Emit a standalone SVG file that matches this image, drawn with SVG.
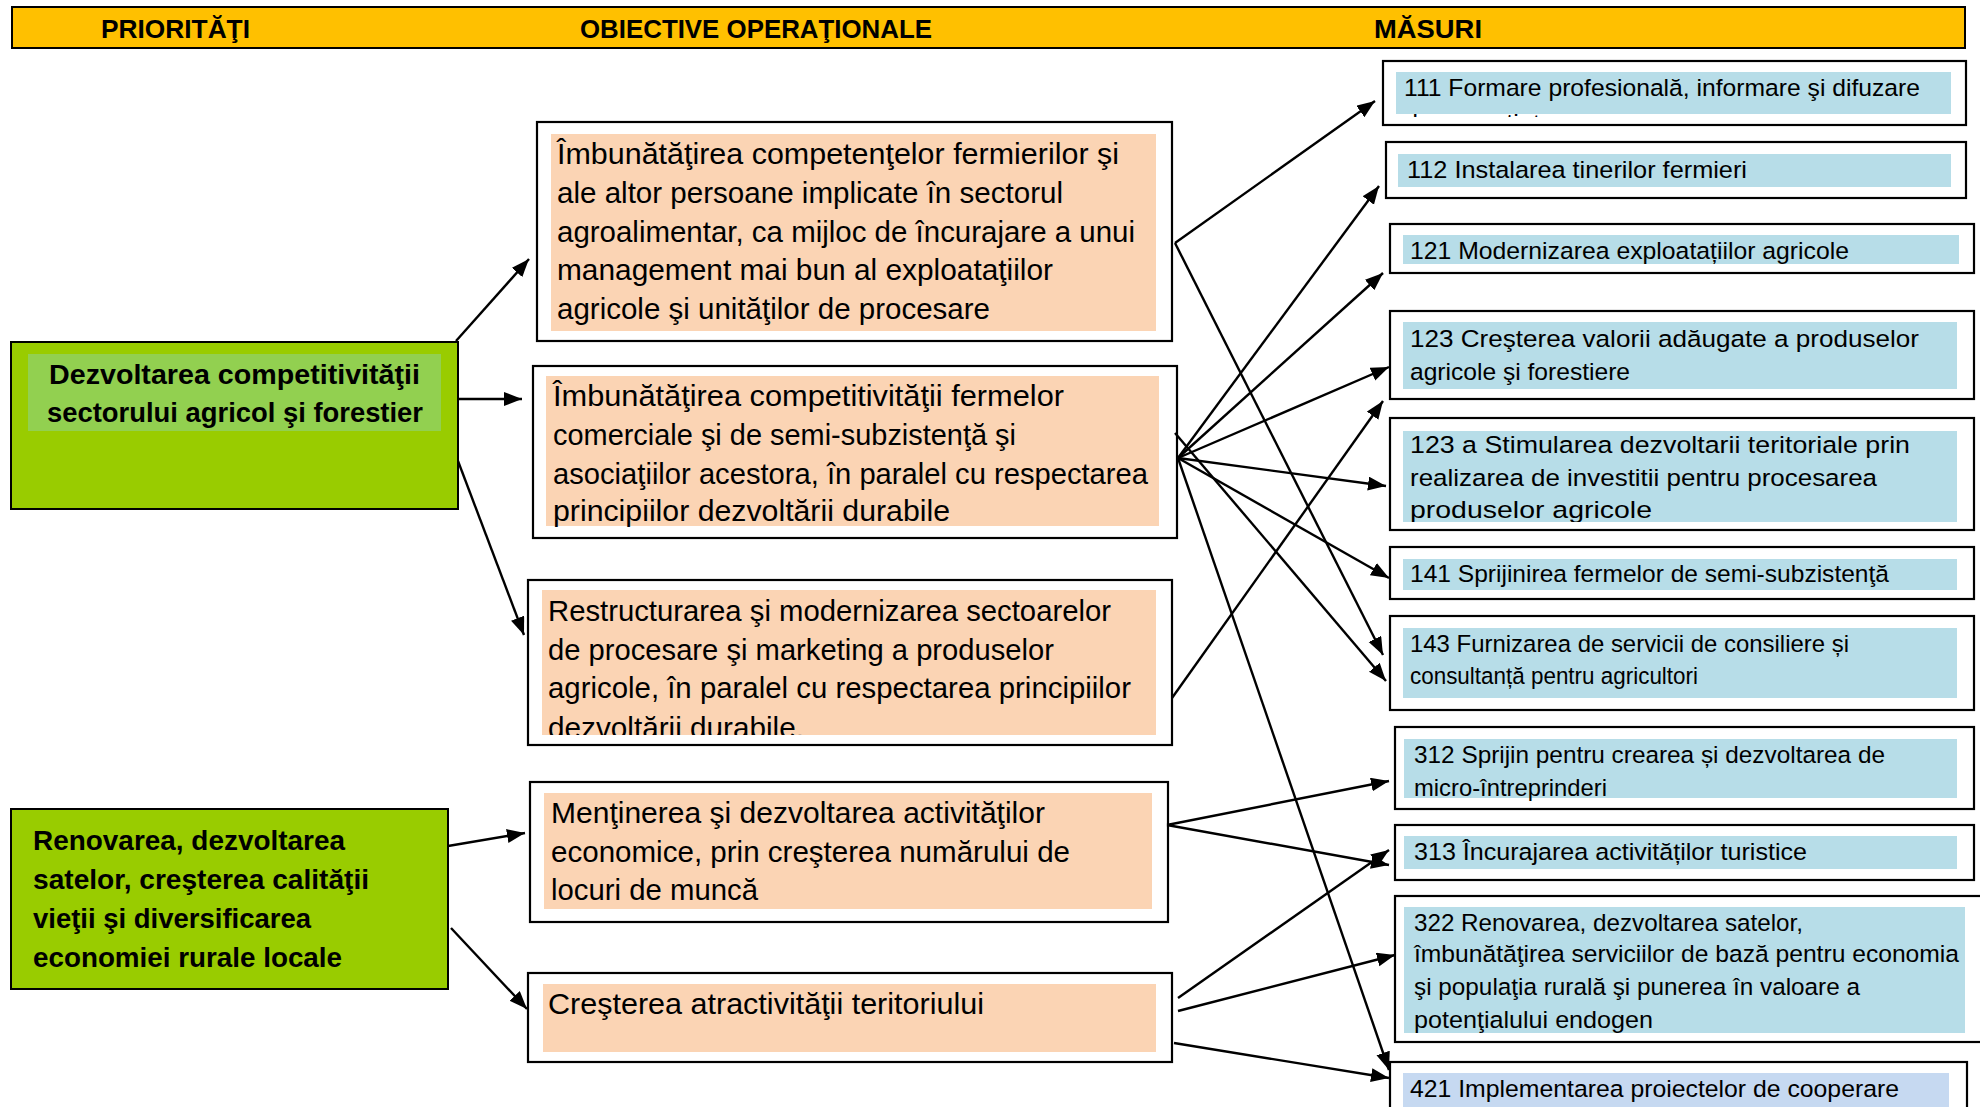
<svg xmlns="http://www.w3.org/2000/svg" width="1980" height="1107" viewBox="0 0 1980 1107">
<style>
.bg{fill:#ffffff}
.hdr{fill:#FFC000;stroke:#000;stroke-width:2}
.htxt{font-family:"Liberation Sans",Arial,sans-serif;font-weight:bold;font-size:26px;fill:#000}
.green{fill:#99CC00;stroke:#000;stroke-width:2}
.band{fill:#92D050}
.gtxt{font-family:"Liberation Sans",Arial,sans-serif;font-weight:bold;font-size:28.5px;fill:#000}
.box{fill:#fff;stroke:#000;stroke-width:2.2}
.peach{fill:#FBD4B4}
.blue{fill:#B7DDE8}
.lav{fill:#C6D9F1}
.otxt{font-family:"Liberation Sans",Arial,sans-serif;font-size:29px;fill:#000}
.mtxt{font-family:"Liberation Sans",Arial,sans-serif;font-size:24.5px;fill:#000}
.conn line{stroke:#000;stroke-width:2.4;fill:none;marker-end:url(#arr)}
</style>
<defs>
<marker id="arr" markerUnits="userSpaceOnUse" markerWidth="19" markerHeight="15" refX="18" refY="7" orient="auto">
<path d="M0,0 L18,7 L0,14 z" fill="#000"/>
</marker>
<clipPath id="cO2"><rect x="540" y="370" width="630" height="157"/></clipPath>
<clipPath id="cO3"><rect x="535" y="585" width="630" height="150"/></clipPath>
<clipPath id="cM1"><rect x="1390" y="66" width="570" height="51"/></clipPath>
<clipPath id="cM3"><rect x="1396" y="229" width="570" height="35"/></clipPath>
<clipPath id="cM5"><rect x="1396" y="425" width="570" height="97"/></clipPath>
<clipPath id="cM10"><rect x="1400" y="901" width="575" height="132"/></clipPath>
</defs>
<rect class="bg" x="0" y="0" width="1980" height="1107"/>

<g id="header">
<rect class="hdr" x="12" y="7" width="1953" height="41"/>
<text class="htxt" x="101" y="38" textLength="149" lengthAdjust="spacingAndGlyphs">PRIORITĂŢI</text>
<text class="htxt" x="580" y="38" textLength="352" lengthAdjust="spacingAndGlyphs">OBIECTIVE OPERAŢIONALE</text>
<text class="htxt" x="1374" y="38" textLength="108" lengthAdjust="spacingAndGlyphs">MĂSURI</text>
</g>

<g id="p1">
<rect class="green" x="11" y="342" width="447" height="167"/>
<rect class="band" x="28" y="354" width="413" height="77"/>
<text class="gtxt" x="49" y="384" textLength="371" lengthAdjust="spacingAndGlyphs">Dezvoltarea competitivităţii</text>
<text class="gtxt" x="47" y="422" textLength="376" lengthAdjust="spacingAndGlyphs">sectorului agricol şi forestier</text>
</g>

<g id="p2">
<rect class="green" x="11" y="809" width="437" height="180"/>
<text class="gtxt" x="33" y="850" textLength="312" lengthAdjust="spacingAndGlyphs">Renovarea, dezvoltarea</text>
<text class="gtxt" x="33" y="889" textLength="336" lengthAdjust="spacingAndGlyphs">satelor, creşterea calităţii</text>
<text class="gtxt" x="33" y="928" textLength="278" lengthAdjust="spacingAndGlyphs">vieţii şi diversificarea</text>
<text class="gtxt" x="33" y="967" textLength="309" lengthAdjust="spacingAndGlyphs">economiei rurale locale</text>
</g>

<g id="o1">
<rect class="box" x="537" y="122" width="635" height="219"/>
<rect class="peach" x="551" y="134" width="605" height="197"/>
<text class="otxt" x="557" y="164" textLength="562" lengthAdjust="spacingAndGlyphs">Îmbunătăţirea competenţelor fermierilor şi</text>
<text class="otxt" x="557" y="203" textLength="506" lengthAdjust="spacingAndGlyphs">ale altor persoane implicate în sectorul</text>
<text class="otxt" x="557" y="242" textLength="578" lengthAdjust="spacingAndGlyphs">agroalimentar, ca mijloc de încurajare a unui</text>
<text class="otxt" x="557" y="280" textLength="496" lengthAdjust="spacingAndGlyphs">management mai bun al exploataţiilor</text>
<text class="otxt" x="557" y="319" textLength="433" lengthAdjust="spacingAndGlyphs">agricole şi unităţilor de procesare</text>
</g>

<g id="o2">
<rect class="box" x="533" y="366" width="644" height="172"/>
<rect class="peach" x="546" y="376" width="613" height="150"/>
<g clip-path="url(#cO2)">
<text class="otxt" x="553" y="406" textLength="511" lengthAdjust="spacingAndGlyphs">Îmbunătăţirea competitivităţii fermelor</text>
<text class="otxt" x="553" y="445" textLength="463" lengthAdjust="spacingAndGlyphs">comerciale şi de semi-subzistenţă şi</text>
<text class="otxt" x="553" y="484" textLength="595" lengthAdjust="spacingAndGlyphs">asociaţiilor acestora, în paralel cu respectarea</text>
<text class="otxt" x="553" y="521" textLength="397" lengthAdjust="spacingAndGlyphs">principiilor dezvoltării durabile</text>
</g>
</g>

<g id="o3">
<rect class="box" x="528" y="580" width="644" height="165"/>
<rect class="peach" x="542" y="590" width="614" height="145"/>
<g clip-path="url(#cO3)">
<text class="otxt" x="548" y="621" textLength="563" lengthAdjust="spacingAndGlyphs">Restructurarea şi modernizarea sectoarelor</text>
<text class="otxt" x="548" y="660" textLength="506" lengthAdjust="spacingAndGlyphs">de procesare şi marketing a produselor</text>
<text class="otxt" x="548" y="698" textLength="583" lengthAdjust="spacingAndGlyphs">agricole, în paralel cu respectarea principiilor</text>
<text class="otxt" x="548" y="738" textLength="256" lengthAdjust="spacingAndGlyphs">dezvoltării durabile.</text>
</g>
</g>

<g id="o4">
<rect class="box" x="530" y="782" width="638" height="140"/>
<rect class="peach" x="544" y="793" width="608" height="116"/>
<text class="otxt" x="551" y="823" textLength="494" lengthAdjust="spacingAndGlyphs">Menţinerea şi dezvoltarea activităţilor</text>
<text class="otxt" x="551" y="862" textLength="519" lengthAdjust="spacingAndGlyphs">economice, prin creşterea numărului de</text>
<text class="otxt" x="551" y="900" textLength="207" lengthAdjust="spacingAndGlyphs">locuri de muncă</text>
</g>

<g id="o5">
<rect class="box" x="528" y="973" width="644" height="89"/>
<rect class="peach" x="543" y="984" width="613" height="68"/>
<text class="otxt" x="548" y="1014" textLength="436" lengthAdjust="spacingAndGlyphs">Creşterea atractivităţii teritoriului</text>
</g>

<g id="m111">
<rect class="box" x="1383" y="61" width="583" height="64"/>
<rect class="blue" x="1396" y="72" width="555" height="42"/>
<g clip-path="url(#cM1)">
<text class="mtxt" x="1404" y="96" textLength="516" lengthAdjust="spacingAndGlyphs">111 Formare profesională, informare şi difuzare</text>
<text class="mtxt" x="1404" y="131" textLength="150" lengthAdjust="spacingAndGlyphs">de cunoştinţe</text>
</g>
</g>

<g id="m112">
<rect class="box" x="1386" y="142" width="580" height="56"/>
<rect class="blue" x="1398" y="154" width="553" height="33"/>
<text class="mtxt" x="1407" y="178" textLength="340" lengthAdjust="spacingAndGlyphs">112 Instalarea tinerilor fermieri</text>
</g>

<g id="m121">
<rect class="box" x="1390" y="224" width="584" height="49"/>
<rect class="blue" x="1403" y="235" width="556" height="29"/>
<g clip-path="url(#cM3)">
<text class="mtxt" x="1410" y="259" textLength="439" lengthAdjust="spacingAndGlyphs">121 Modernizarea exploatațiilor agricole</text>
</g>
</g>

<g id="m123">
<rect class="box" x="1390" y="311" width="584" height="88"/>
<rect class="blue" x="1403" y="322" width="554" height="67"/>
<text class="mtxt" x="1410" y="347" textLength="509" lengthAdjust="spacingAndGlyphs">123 Creşterea valorii adăugate a produselor</text>
<text class="mtxt" x="1410" y="380" textLength="220" lengthAdjust="spacingAndGlyphs">agricole şi forestiere</text>
</g>

<g id="m123a">
<rect class="box" x="1390" y="418" width="584" height="112"/>
<rect class="blue" x="1403" y="431" width="554" height="91"/>
<g clip-path="url(#cM5)">
<text class="mtxt" x="1410" y="453" textLength="500" lengthAdjust="spacingAndGlyphs">123 a Stimularea dezvoltarii teritoriale prin</text>
<text class="mtxt" x="1410" y="486" textLength="467" lengthAdjust="spacingAndGlyphs">realizarea de investitii pentru procesarea</text>
<text class="mtxt" x="1410" y="518" textLength="242" lengthAdjust="spacingAndGlyphs">produselor agricole</text>
</g>
</g>

<g id="m141">
<rect class="box" x="1390" y="547" width="584" height="52"/>
<rect class="blue" x="1403" y="559" width="554" height="31"/>
<text class="mtxt" x="1410" y="582" textLength="479" lengthAdjust="spacingAndGlyphs">141 Sprijinirea fermelor de semi-subzistenţă</text>
</g>

<g id="m143">
<rect class="box" x="1390" y="616" width="584" height="94"/>
<rect class="blue" x="1403" y="628" width="554" height="70"/>
<text class="mtxt" x="1410" y="652" textLength="439" lengthAdjust="spacingAndGlyphs">143 Furnizarea de servicii de consiliere și</text>
<text class="mtxt" x="1410" y="684" textLength="288" lengthAdjust="spacingAndGlyphs">consultanță pentru agricultori</text>
</g>

<g id="m312">
<rect class="box" x="1395" y="727" width="579" height="82"/>
<rect class="blue" x="1404" y="739" width="553" height="59"/>
<text class="mtxt" x="1414" y="763" textLength="471" lengthAdjust="spacingAndGlyphs">312 Sprijin pentru crearea și dezvoltarea de</text>
<text class="mtxt" x="1414" y="796" textLength="193" lengthAdjust="spacingAndGlyphs">micro-întreprinderi</text>
</g>

<g id="m313">
<rect class="box" x="1395" y="825" width="579" height="55"/>
<rect class="blue" x="1404" y="836" width="553" height="33"/>
<text class="mtxt" x="1414" y="860" textLength="393" lengthAdjust="spacingAndGlyphs">313 Încurajarea activităților turistice</text>
</g>

<g id="m322">
<rect class="box" x="1395" y="896" width="600" height="146"/>
<rect class="blue" x="1404" y="907" width="561" height="126"/>
<g clip-path="url(#cM10)">
<text class="mtxt" x="1414" y="931" textLength="389" lengthAdjust="spacingAndGlyphs">322 Renovarea, dezvoltarea satelor,</text>
<text class="mtxt" x="1414" y="962" textLength="545" lengthAdjust="spacingAndGlyphs">îmbunătăţirea serviciilor de bază pentru economia</text>
<text class="mtxt" x="1414" y="995" textLength="446" lengthAdjust="spacingAndGlyphs">şi populaţia rurală şi punerea în valoare a</text>
<text class="mtxt" x="1414" y="1028" textLength="239" lengthAdjust="spacingAndGlyphs">potenţialului endogen</text>
</g>
</g>

<g id="m421">
<rect class="box" x="1390" y="1062" width="577" height="60"/>
<rect class="lav" x="1403" y="1073" width="546" height="40"/>
<text class="mtxt" x="1410" y="1097" textLength="489" lengthAdjust="spacingAndGlyphs">421 Implementarea proiectelor de cooperare</text>
</g>

<g id="connectors" class="conn">
<line x1="456" y1="341" x2="529" y2="259"/>
<line x1="458" y1="399" x2="522" y2="399"/>
<line x1="458" y1="461" x2="524" y2="635"/>
<line x1="448" y1="846" x2="525" y2="833"/>
<line x1="451" y1="928" x2="527" y2="1009"/>
<line x1="1175" y1="243" x2="1375" y2="101"/>
<line x1="1175" y1="243" x2="1383" y2="655"/>
<line x1="1178" y1="458" x2="1379" y2="186"/>
<line x1="1178" y1="458" x2="1383" y2="273"/>
<line x1="1178" y1="458" x2="1389" y2="367"/>
<line x1="1178" y1="458" x2="1386" y2="486"/>
<line x1="1178" y1="458" x2="1389" y2="578"/>
<line x1="1175" y1="433" x2="1386" y2="681"/>
<line x1="1178" y1="458" x2="1389" y2="1070"/>
<line x1="1172" y1="698" x2="1383" y2="401"/>
<line x1="1167" y1="825" x2="1389" y2="781"/>
<line x1="1167" y1="825" x2="1389" y2="865"/>
<line x1="1178" y1="998" x2="1389" y2="850"/>
<line x1="1178" y1="1011" x2="1395" y2="955"/>
<line x1="1174" y1="1043" x2="1389" y2="1078"/>
</g>
</svg>
